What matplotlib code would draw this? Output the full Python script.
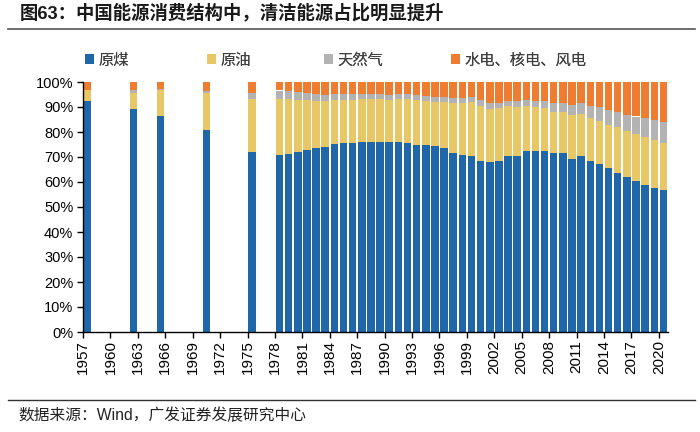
import matplotlib
matplotlib.use("Agg")
import matplotlib.pyplot as plt
from matplotlib.lines import Line2D
from matplotlib.patches import Patch
from matplotlib.ticker import PercentFormatter
import numpy as np

# share of total energy consumption, %
years = [1957, 1962, 1965, 1970, 1975] + list(range(1978, 2021))
coal = [92.3, 89.2, 86.5, 80.9, 71.9,
        70.7, 71.3, 72.2, 72.7, 73.7, 74.2, 75.3, 75.8, 75.8, 76.2,
        76.2, 76.0, 76.2, 76.1, 75.7, 74.7, 75.0, 74.6, 73.5, 71.4,
        70.9, 70.6, 68.5, 68.0, 68.5, 70.2, 70.2, 72.4, 72.4, 72.5,
        71.5, 71.6, 69.2, 70.2, 68.5, 67.4, 65.6, 63.7, 62.0, 60.4,
        59.0, 57.7, 56.8]
oil = [4.6, 6.6, 10.3, 14.7, 21.1,
       22.7, 21.8, 20.7, 20.0, 18.9, 18.1, 17.4, 17.1, 17.2, 17.0,
       17.0, 17.1, 16.6, 17.1, 17.5, 18.2, 17.4, 17.5, 18.7, 20.4,
       20.8, 21.5, 22.0, 21.2, 21.0, 20.1, 19.9, 17.8, 17.5, 17.0,
       16.7, 16.4, 17.4, 16.8, 17.0, 17.1, 17.4, 18.3, 18.5, 18.8,
       18.9, 19.0, 18.9]
gas = [0.1, 0.9, 0.6, 0.9, 2.5,
       3.2, 3.3, 3.1, 2.8, 2.5, 2.4, 2.4, 2.2, 2.3, 2.1,
       2.1, 2.0, 2.1, 2.0, 1.9, 1.9, 1.9, 1.8, 1.8, 1.8,
       1.8, 2.0, 2.2, 2.4, 2.3, 2.3, 2.3, 2.4, 2.7, 3.0,
       3.4, 3.5, 4.0, 4.6, 4.8, 5.3, 5.7, 5.9, 6.2, 7.0,
       7.8, 8.0, 8.4]
clean = [3.0, 3.3, 2.6, 3.5, 4.5,
         3.4, 3.6, 4.0, 4.5, 4.9, 5.3, 4.9, 4.9, 4.7, 4.7,
         4.7, 4.9, 5.1, 4.8, 4.9, 5.2, 5.7, 6.1, 6.0, 6.4,
         6.5, 5.9, 7.3, 8.4, 8.2, 7.4, 7.6, 7.4, 7.4, 7.5,
         8.4, 8.5, 9.4, 8.4, 9.7, 10.2, 11.3, 12.1, 13.3, 13.8,
         14.3, 15.3, 15.9]

series_names = ["原煤", "原油", "天然气", "水电、核电、风电"]
colors = ["#1f67a8", "#e8c766", "#b3b3b3", "#ef7d31"]
legend_x = [85, 207, 324, 451]   # left edge of each legend entry, px
tick_years = list(range(1957, 2021, 3))

title = "图63：中国能源消费结构中，清洁能源占比明显提升"
source = "数据来源：Wind，广发证券发展研究中心"

W, H = 700, 432
fam = ["Liberation Sans", "Noto Sans CJK SC"]
plt.rcParams["font.family"] = fam

fig = plt.figure(figsize=(W / 100, H / 100), dpi=100)
ax = fig.add_axes([83 / W, 1 - 332 / H, 585 / W, 250 / H])

x = np.array(years, dtype=float)
bottom = np.zeros(len(years))
for vals, color in zip([coal, oil, gas, clean], colors):
    v = np.array(vals) / 100.0
    ax.bar(x, v, width=0.82, bottom=bottom, color=color, linewidth=0)
    bottom += v

ax.set_xlim(1956.5, 2020.5)
ax.set_ylim(0, 1)
ax.set_yticks(np.arange(0, 1.01, 0.1))
ax.yaxis.set_major_formatter(PercentFormatter(1.0, decimals=0))
ax.set_xticks([y - 0.5 for y in tick_years])
ax.set_xticklabels([str(y) for y in tick_years], rotation=90)

for side in ["top", "right"]:
    ax.spines[side].set_visible(False)
for side in ["left", "bottom"]:
    ax.spines[side].set_color("black")
    ax.spines[side].set_linewidth(1.0)
ax.tick_params(axis="y", labelsize=10.5, length=4, width=1, pad=3, colors="black")
ax.tick_params(axis="x", labelsize=11, length=4, width=1, pad=2, colors="black")

# one legend per entry so the spacing follows the original
for name, color, lx in zip(series_names, colors, legend_x):
    leg = fig.legend([Patch(facecolor=color, edgecolor="none")], [name],
                     loc="center left", bbox_to_anchor=(lx / W, 1 - 60 / H),
                     frameon=False, handlelength=0.6, handleheight=0.6,
                     handletextpad=0.3, borderaxespad=0, borderpad=0,
                     prop={"family": "Noto Sans CJK SC", "size": 11},
                     labelcolor="#404040")
    fig.add_artist(leg)

fig.text(20 / W, 1 - 12.5 / H, title, ha="left", va="center",
         fontsize=13.2, fontweight="bold", color="#1a1a1a", family=fam)
fig.add_artist(Line2D([8 / W, 695 / W], [1 - 29 / H] * 2, color="#555555", lw=1.2))
fig.add_artist(Line2D([8 / W, 695 / W], [1 - 400 / H] * 2, color="#333333", lw=1.0))
fig.text(18 / W, 1 - 416 / H, source, ha="left", va="center",
         fontsize=11.3, color="#222222", family=fam)

fig.savefig("out.png", dpi=100)
